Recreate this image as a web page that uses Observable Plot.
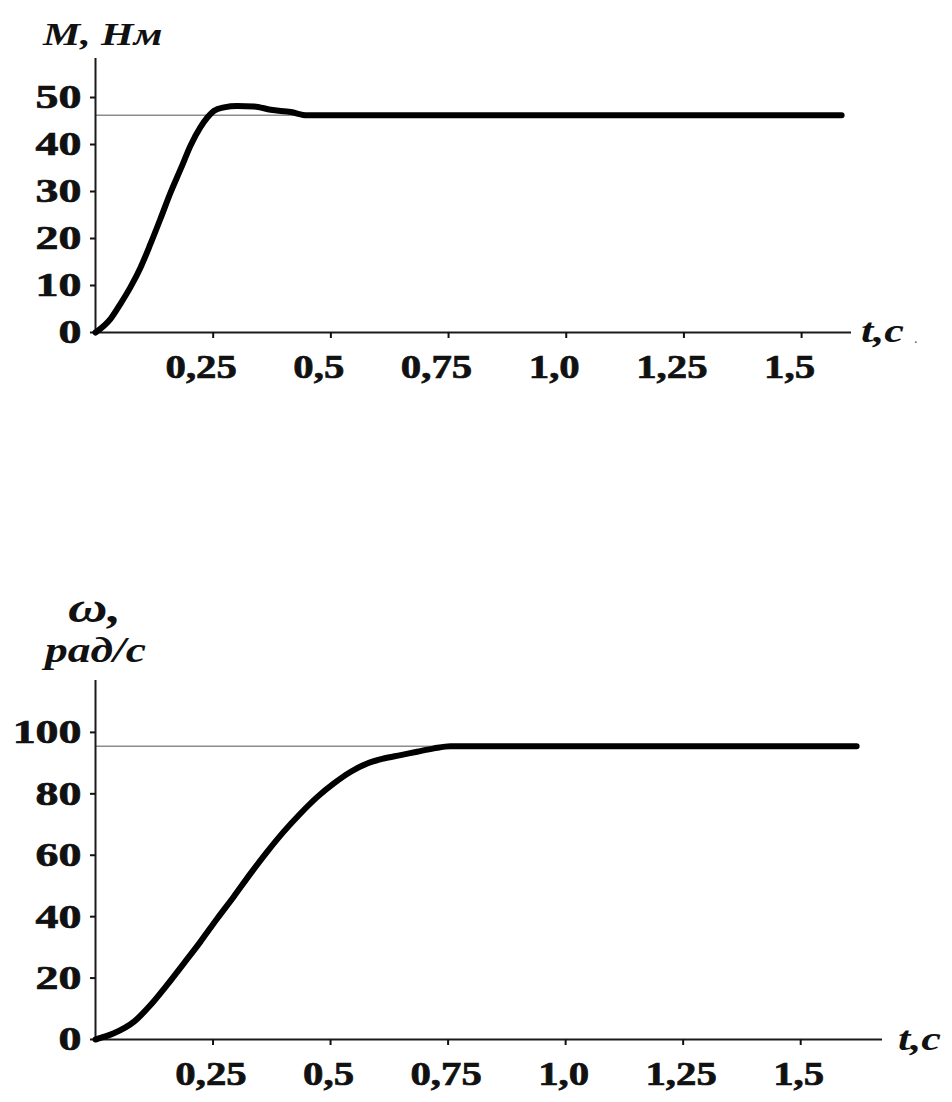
<!DOCTYPE html>
<html><head><meta charset="utf-8">
<script src="https://cdn.jsdelivr.net/npm/d3@7"></script>
<script src="https://cdn.jsdelivr.net/npm/@observablehq/plot@0.6"></script>
<style>
body{margin:0;background:#fff;}
#wrap{position:relative;width:952px;height:1102px;overflow:hidden;background:#fff;}
#wrap > svg{position:absolute;left:0;}
</style></head><body><div id="wrap"></div>
<script>
// Torque M(t), N·m
const tM = [0, 0.032, 0.053, 0.074, 0.096, 0.117, 0.138, 0.160, 0.181, 0.202, 0.223, 0.238, 0.252, 0.273, 0.301, 0.337, 0.372, 0.415, 0.450, 0.500, 1.000, 1.585];
const M  = [0, 2.9, 6.1, 9.6, 13.9, 18.9, 24.2, 29.9, 34.8, 39.8, 43.7, 45.8, 47.2, 47.9, 48.2, 48.1, 47.4, 46.9, 46.2, 46.2, 46.2, 46.2];
const M_steady = 46.2;

// Angular speed ω(t), rad/s
const tW = [0, 0.039, 0.082, 0.117, 0.152, 0.188, 0.223, 0.259, 0.294, 0.330, 0.365, 0.400, 0.436, 0.472, 0.507, 0.543, 0.578, 0.613, 0.649, 0.684, 0.720, 0.755, 1.000, 1.619];
const W  = [0, 2.0, 5.8, 11.2, 17.7, 24.8, 31.8, 39.4, 46.5, 54.1, 61.1, 67.6, 73.6, 79.0, 83.4, 87.2, 89.9, 91.5, 92.6, 93.7, 94.8, 95.5, 95.5, 95.5];
const W_steady = 95.5;

// Axis ticks and labels
const xTicks = [0.25, 0.5, 0.75, 1.0, 1.25, 1.5];
const xTickLabels = ["0,25", "0,5", "0,75", "1,0", "1,25", "1,5"];
const yTicksM = [0, 10, 20, 30, 40, 50];
const yTicksW = [0, 20, 40, 60, 80, 100];

const titleM = "M, Нм";
const titleW1 = "ω,";
const titleW2 = "рад/с";
const titleT = "t,c";

const FONT = "'Liberation Serif','Times New Roman',serif";
const xfmt = d => xTickLabels[xTicks.indexOf(d)] ?? "";

function chart({t, v, steady, yTicks, height, mt, mb, mr, xmax, ymax, labelDx}) {
  const data = t.map((ti, i) => ({t: ti, v: v[i]}));
  return Plot.plot({
    width: 952, height,
    marginLeft: 95, marginRight: mr, marginTop: mt, marginBottom: mb,
    x: {domain: [0, xmax]},
    y: {domain: [0, ymax]},
    style: {fontFamily: FONT, fontWeight: "bold", color: "#111", background: "transparent", overflow: "visible"},
    marks: [
      Plot.ruleY([steady], {x1: 0, x2: t[t.length - 1], stroke: "#8c8c8c", strokeWidth: 1.5}),
      Plot.ruleX([0], {stroke: "#1a1a1a", strokeWidth: 2}),
      Plot.ruleY([0], {stroke: "#1a1a1a", strokeWidth: 2}),
      Plot.axisX({ticks: xTicks, tickSize: 6, tickFormat: () => "", strokeWidth: 2, label: null}),
      Plot.axisX({ticks: xTicks, tickSize: 0, tickPadding: 21, tickFormat: xfmt, fontSize: 34, dx: labelDx, label: null}),
      Plot.axisY({ticks: yTicks, tickSize: 5, tickPadding: 9, fontSize: 34, strokeWidth: 2, label: null}),
      Plot.line(data, {x: "t", y: "v", stroke: "#000", strokeWidth: 6, curve: "monotone-x"})
    ]
  });
}

function stretch(svg, sel, s) {
  svg.querySelectorAll(sel).forEach(el => {
    const x = +(el.getAttribute("x") || 0);
    const tr = el.getAttribute("transform") || "";
    el.setAttribute("transform", `${tr} translate(${x},0) scale(${s},1) translate(${-x},0)`);
    el.setAttribute("stroke", "#111");
    el.setAttribute("stroke-width", "0.7");
  });
}

const wrap = document.getElementById("wrap");

const top1 = chart({t: tM, v: M, steady: M_steady, yTicks: yTicksM, height: 400, mt: 58, mb: 68, mr: 101, xmax: 1.606, ymax: 58.3, labelDx: -12});
top1.style.top = "0px";
wrap.appendChild(top1);

const bot = chart({t: tW, v: W, steady: W_steady, yTicks: yTicksW, height: 542, mt: 120, mb: 63, mr: 70, xmax: 1.674, ymax: 116.9, labelDx: -2});
bot.style.top = "560px";
wrap.appendChild(bot);

for (const s of [top1, bot]) {
  stretch(s, 'g[aria-label="x-axis tick label"] text', 1.2);
  stretch(s, 'g[aria-label="y-axis tick label"] text', 1.35);
}

// Axis titles (overlay)
const ov = d3.select(wrap).append("svg")
  .attr("width", 952).attr("height", 1102)
  .style("top", "0px").style("pointer-events", "none");
const titles = [
  {text: titleM, x: 43, y: 45, size: 31, s: 1.35},
  {text: titleT, x: 861, y: 342, size: 34, s: 1.3},
  {text: titleW1, x: 68, y: 622, size: 42, s: 1.3},
  {text: titleW2, x: 45, y: 662, size: 35, s: 1.3},
  {text: titleT, x: 898, y: 1050, size: 34, s: 1.3}
];
ov.selectAll("text").data(titles).join("text")
  .attr("transform", d => `translate(${d.x},${d.y}) scale(${d.s},1)`)
  .attr("font-family", FONT)
  .attr("font-weight", "bold")
  .attr("font-style", "italic")
  .attr("font-size", d => d.size)
  .attr("fill", "#111")
  .text(d => d.text);
ov.append("text").attr("x", 914).attr("y", 343)
  .attr("font-family", FONT).attr("font-size", 14).attr("fill", "#555").text(".");
</script>
</body></html>
